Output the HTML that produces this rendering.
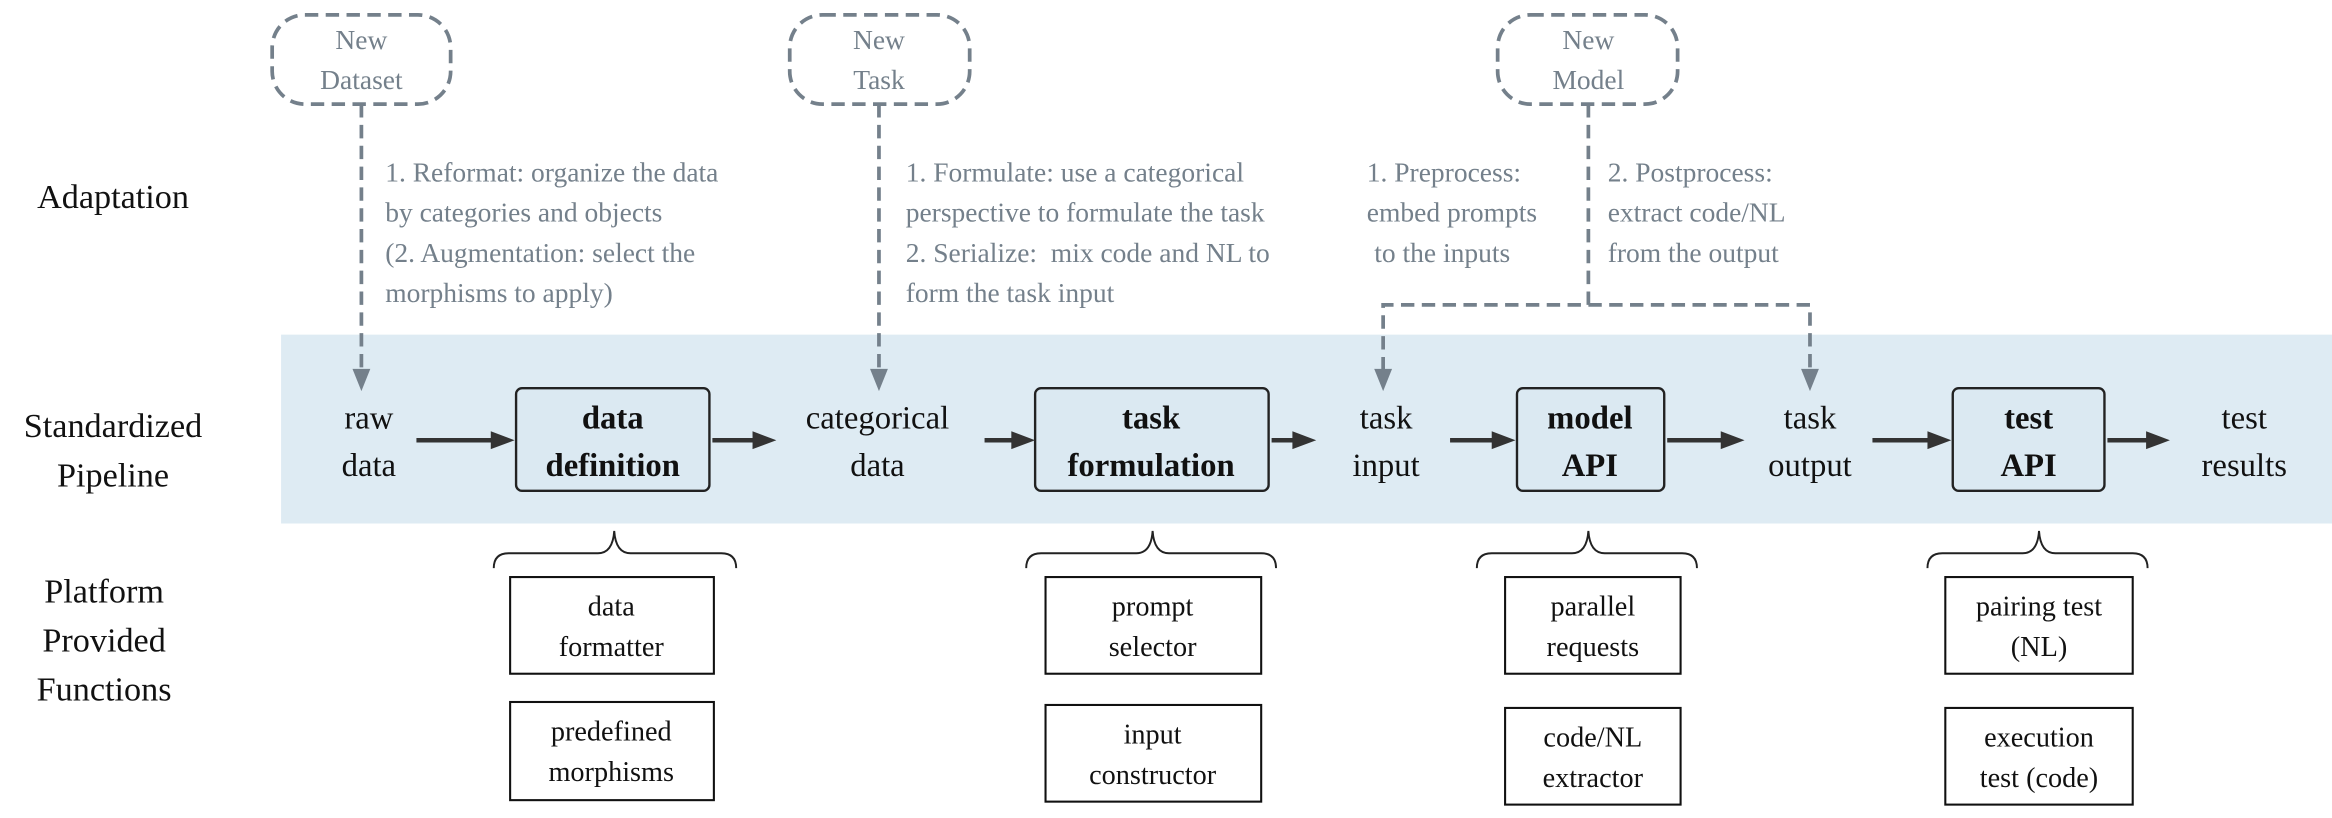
<!DOCTYPE html>
<html><head><meta charset="utf-8"><style>
html,body{margin:0;padding:0;background:#fff;}
svg{display:block;font-family:"Liberation Serif","Times New Roman","DejaVu Serif",serif;}
svg text{font-family:"Liberation Serif","Times New Roman","DejaVu Serif",serif !important;}
.g{fill:#74808b;font-size:18.5px;}
.k{fill:#111;font-size:22px;}
.b{fill:#111;font-size:22px;font-weight:bold;}
.f{fill:#111;font-size:19px;}
.l{fill:#111;font-size:23px;}
</style></head><body>
<svg width="2332" height="818" viewBox="0 0 1568 550" xmlns="http://www.w3.org/2000/svg" font-family="Liberation Serif, serif">
<rect x="189" y="225" width="1379" height="127" fill="#deebf3"/>
<text class="l" x="76" y="140" text-anchor="middle">Adaptation</text>
<text class="l" x="76" y="294" text-anchor="middle">Standardized</text>
<text class="l" x="76" y="327" text-anchor="middle">Pipeline</text>
<text class="l" x="70" y="405" text-anchor="middle">Platform</text>
<text class="l" x="70" y="438" text-anchor="middle">Provided</text>
<text class="l" x="70" y="471" text-anchor="middle">Functions</text>
<g fill="none" stroke="#74808b" stroke-width="2.5" stroke-dasharray="9,5">
<rect x="183" y="10" width="120" height="60" rx="22"/>
<rect x="531" y="10" width="121" height="60" rx="22"/>
<rect x="1007" y="10" width="121" height="60" rx="22"/>
<path d="M243 70 V250"/>
<path d="M591 70 V250"/>
<path d="M1068 70 V205 H930 V250"/>
<path d="M1068 205 H1217 V250"/>
</g>
<g fill="#74808b">
<path d="M237 248 L249 248 L243 263 Z"/>
<path d="M585 248 L597 248 L591 263 Z"/>
<path d="M924 248 L936 248 L930 263 Z"/>
<path d="M1211 248 L1223 248 L1217 263 Z"/>
</g>
<text class="g" x="243" y="33" text-anchor="middle">New</text>
<text class="g" x="243" y="60" text-anchor="middle">Dataset</text>
<text class="g" x="591" y="33" text-anchor="middle">New</text>
<text class="g" x="591" y="60" text-anchor="middle">Task</text>
<text class="g" x="1068" y="33" text-anchor="middle">New</text>
<text class="g" x="1068" y="60" text-anchor="middle">Model</text>
<text class="g" x="259" y="122">1. Reformat: organize the data</text>
<text class="g" x="259" y="149">by categories and objects</text>
<text class="g" x="259" y="176">(2. Augmentation: select the</text>
<text class="g" x="259" y="203">morphisms to apply)</text>
<text class="g" x="609" y="122">1. Formulate: use a categorical</text>
<text class="g" x="609" y="149">perspective to formulate the task</text>
<text class="g" x="609" y="176" xml:space="preserve">2. Serialize:  mix code and NL to</text>
<text class="g" x="609" y="203">form the task input</text>
<text class="g" x="919" y="122">1. Preprocess:</text>
<text class="g" x="919" y="149">embed prompts</text>
<text class="g" x="924" y="176">to the inputs</text>
<text class="g" x="1081" y="122">2. Postprocess:</text>
<text class="g" x="1081" y="149">extract code/NL</text>
<text class="g" x="1081" y="176">from the output</text>
<text class="k" x="248" y="288" text-anchor="middle">raw</text>
<text class="k" x="248" y="320" text-anchor="middle">data</text>
<text class="k" x="590" y="288" text-anchor="middle">categorical</text>
<text class="k" x="590" y="320" text-anchor="middle">data</text>
<text class="k" x="932" y="288" text-anchor="middle">task</text>
<text class="k" x="932" y="320" text-anchor="middle">input</text>
<text class="k" x="1217" y="288" text-anchor="middle">task</text>
<text class="k" x="1217" y="320" text-anchor="middle">output</text>
<text class="k" x="1509" y="288" text-anchor="middle">test</text>
<text class="k" x="1509" y="320" text-anchor="middle">results</text>
<g fill="#dbe9f2" stroke="#222" stroke-width="1.6">
<rect x="347" y="261" width="130" height="69" rx="4"/>
<rect x="696" y="261" width="157" height="69" rx="4"/>
<rect x="1020" y="261" width="99" height="69" rx="4"/>
<rect x="1313" y="261" width="102" height="69" rx="4"/>
</g>
<text class="b" x="412" y="288" text-anchor="middle">data</text>
<text class="b" x="412" y="320" text-anchor="middle">definition</text>
<text class="b" x="774" y="288" text-anchor="middle">task</text>
<text class="b" x="774" y="320" text-anchor="middle">formulation</text>
<text class="b" x="1069" y="288" text-anchor="middle">model</text>
<text class="b" x="1069" y="320" text-anchor="middle">API</text>
<text class="b" x="1364" y="288" text-anchor="middle">test</text>
<text class="b" x="1364" y="320" text-anchor="middle">API</text>
<g stroke="#333" stroke-width="3">
<path d="M280 296 H332"/><path d="M479 296 H508"/><path d="M662 296 H682"/><path d="M855 296 H871"/>
<path d="M975 296 H1005"/><path d="M1121 296 H1159"/><path d="M1259 296 H1298"/><path d="M1417 296 H1445"/>
</g>
<g fill="#333">
<path d="M330 290 L346 296 L330 302Z"/><path d="M506 290 L522 296 L506 302Z"/>
<path d="M680 290 L696 296 L680 302Z"/><path d="M869 290 L885 296 L869 302Z"/>
<path d="M1003 290 L1019 296 L1003 302Z"/><path d="M1157 290 L1173 296 L1157 302Z"/>
<path d="M1296 290 L1312 296 L1296 302Z"/><path d="M1443 290 L1459 296 L1443 302Z"/>
</g>
<g fill="none" stroke="#222" stroke-width="1.3">
<path d="M332 382 Q332 372 342 372 H402 Q412 372 413 357 Q414 372 424 372 H485 Q495 372 495 382"/>
<path d="M690 382 Q690 372 700 372 H764 Q774 372 775 357 Q776 372 786 372 H848 Q858 372 858 382"/>
<path d="M993 382 Q993 372 1003 372 H1057 Q1067 372 1068 357 Q1069 372 1079 372 H1131 Q1141 372 1141 382"/>
<path d="M1296 382 Q1296 372 1306 372 H1360 Q1370 372 1371 357 Q1372 372 1382 372 H1434 Q1444 372 1444 382"/>
</g>
<g fill="#fff" stroke="#111" stroke-width="1.4">
<rect x="343" y="388" width="137" height="65"/>
<rect x="343" y="472" width="137" height="66"/>
<rect x="703" y="388" width="145" height="65"/>
<rect x="703" y="474" width="145" height="65"/>
<rect x="1012" y="388" width="118" height="65"/>
<rect x="1012" y="476" width="118" height="65"/>
<rect x="1308" y="388" width="126" height="65"/>
<rect x="1308" y="476" width="126" height="65"/>
</g>
<text class="f" x="411" y="414" text-anchor="middle">data</text>
<text class="f" x="411" y="441" text-anchor="middle">formatter</text>
<text class="f" x="411" y="498" text-anchor="middle">predefined</text>
<text class="f" x="411" y="525" text-anchor="middle">morphisms</text>
<text class="f" x="775" y="414" text-anchor="middle">prompt</text>
<text class="f" x="775" y="441" text-anchor="middle">selector</text>
<text class="f" x="775" y="500" text-anchor="middle">input</text>
<text class="f" x="775" y="527" text-anchor="middle">constructor</text>
<text class="f" x="1071" y="414" text-anchor="middle">parallel</text>
<text class="f" x="1071" y="441" text-anchor="middle">requests</text>
<text class="f" x="1071" y="502" text-anchor="middle">code/NL</text>
<text class="f" x="1071" y="529" text-anchor="middle">extractor</text>
<text class="f" x="1371" y="414" text-anchor="middle">pairing test</text>
<text class="f" x="1371" y="441" text-anchor="middle">(NL)</text>
<text class="f" x="1371" y="502" text-anchor="middle">execution</text>
<text class="f" x="1371" y="529" text-anchor="middle">test (code)</text>
</svg>
</body></html>
